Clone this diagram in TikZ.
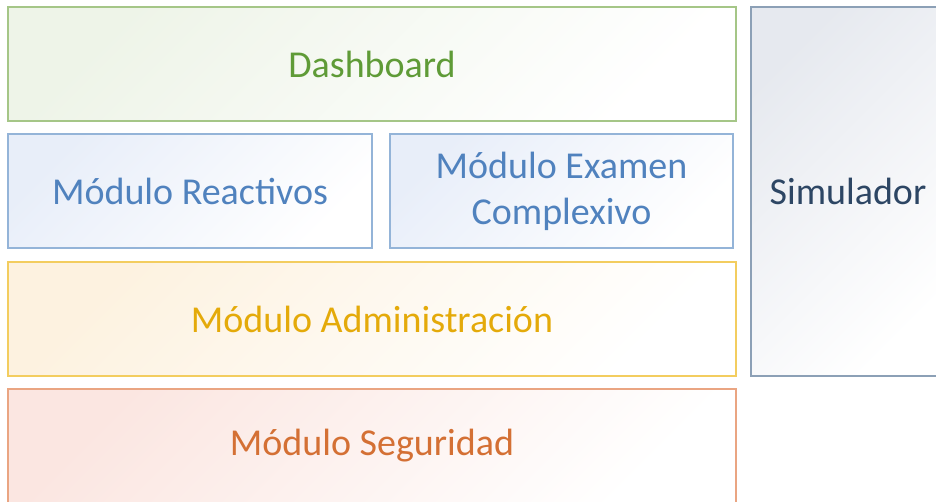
\documentclass[tikz,border=0pt]{standalone}
\usepackage{fontspec}
\setmainfont{Carlito}
\usetikzlibrary{positioning}
\definecolor{dashline}{RGB}{165,198,135}
\definecolor{dashtext}{RGB}{95,155,55}
\definecolor{dashtint}{RGB}{238,244,232}
\definecolor{modline}{RGB}{148,180,216}
\definecolor{modtext}{RGB}{80,130,190}
\definecolor{modtint}{RGB}{232,238,249}
\definecolor{admline}{RGB}{243,205,95}
\definecolor{admtext}{RGB}{228,170,10}
\definecolor{admtint}{RGB}{253,242,224}
\definecolor{segline}{RGB}{234,165,130}
\definecolor{segtext}{RGB}{212,112,52}
\definecolor{segtint}{RGB}{251,230,225}
\definecolor{simline}{RGB}{140,160,182}
\definecolor{simtext}{RGB}{45,70,100}
\definecolor{simtint}{RGB}{230,233,239}

\begin{document}
\begin{tikzpicture}[x=1pt,y=-1pt,
  modbox/.style n args={3}{rectangle, draw=#1, line width=1.6pt, top color=#2,
    bottom color=white, shading angle=45, text=#3, inner sep=0pt,
    minimum height=114pt, align=center, font=\fontsize{38}{46}\selectfont}]
  \useasboundingbox (0,0) rectangle (936,502);
  % capas
  \node[modbox={dashline}{dashtint}{dashtext}, minimum width=728pt] (dash) at (372,64) {Dashboard};
  \node[modbox={modline}{modtint}{modtext}, minimum width=364pt] (reac) at (190,191) {Módulo Reactivos};
  \node[modbox={modline}{modtint}{modtext}, minimum width=343pt] (exam) at (561.5,191) {Módulo Examen\\Complexivo};
  \node[modbox={admline}{admtint}{admtext}, minimum width=728pt] (admin) at (372,319) {Módulo Administración};
  \node[modbox={segline}{segtint}{segtext}, minimum width=728pt] (seg) at (372,446) {Módulo Seguridad};
  % lateral
  \node[modbox={simline}{simtint}{simtext}, minimum width=194pt, minimum height=369pt] (sim) at (848,191.5) {Simulador};
\end{tikzpicture}
\end{document}
